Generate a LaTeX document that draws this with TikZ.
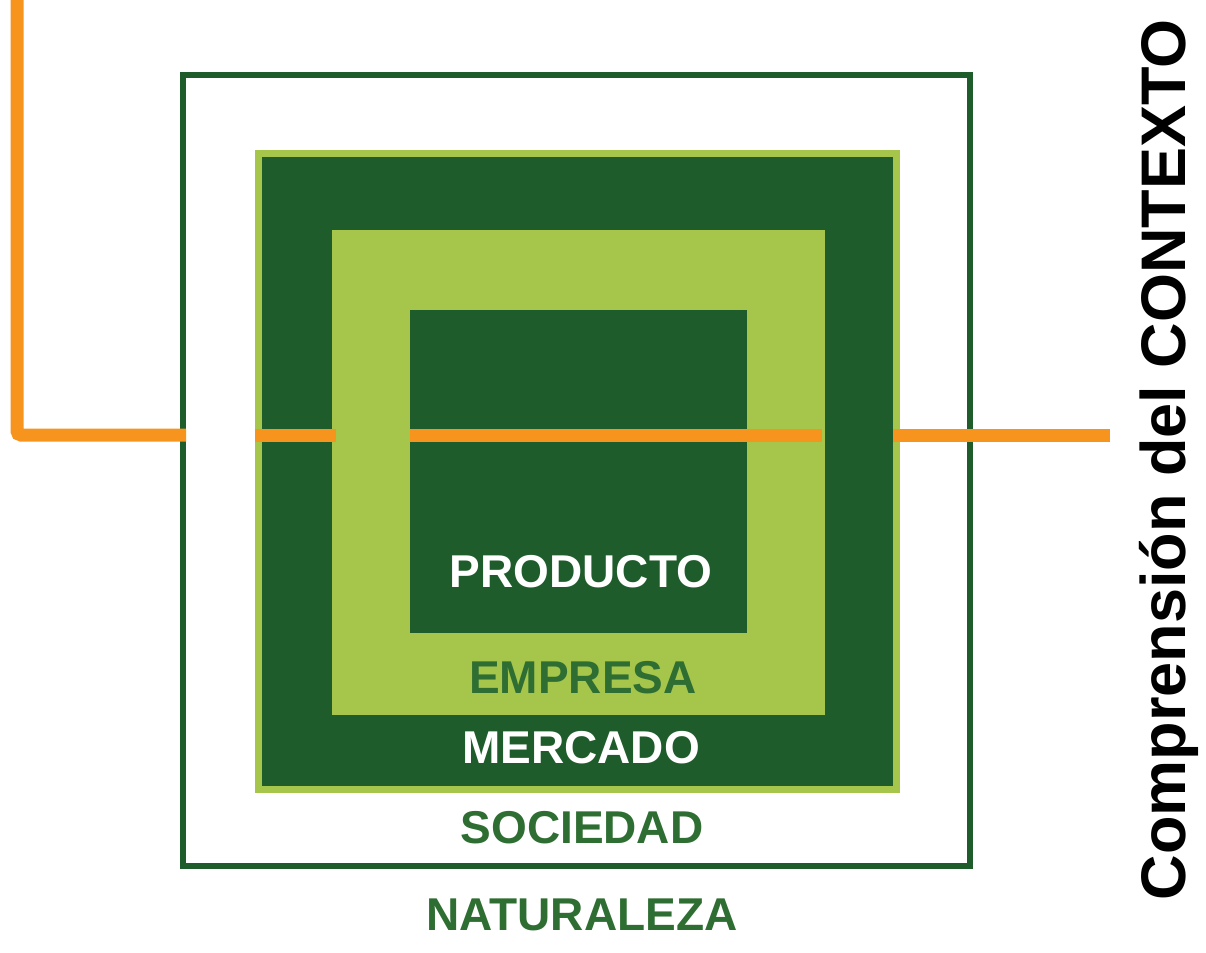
\documentclass[tikz,border=0pt]{standalone}
\usepackage{fontspec}
\setmainfont{Liberation Sans}
\definecolor{dkgreen}{HTML}{1F5C2B}
\definecolor{ltgreen}{HTML}{A5C54B}
\definecolor{txtgreen}{HTML}{2F6E32}
\definecolor{orng}{HTML}{F7941D}
\begin{document}
\begin{tikzpicture}[x=1pt,y=-1pt,
  box/.style={inner sep=0pt,outer sep=0pt,rectangle},
  lbl/.style={font=\fontsize{46}{50}\selectfont\bfseries,inner sep=0pt},
  orangeline/.style={draw=orng,line width=13pt}]
\useasboundingbox (0,0) rectangle (1206,952);
% rectangles
\node[box,draw=dkgreen,line width=6pt,minimum width=787pt,minimum height=791pt] (soc) at (576.5,470.5) {};
\node[box,fill=dkgreen,draw=ltgreen,line width=7pt,minimum width=638pt,minimum height=636pt] (mer) at (577.5,471.5) {};
\node[box,fill=ltgreen,minimum width=493pt,minimum height=485pt] (emp) at (578.5,472.5) {};
\node[box,fill=dkgreen,minimum width=337pt,minimum height=323pt] (pro) at (578.5,471.5) {};
% labels
\node[lbl,white] (tpro) at (581,572) {PRODUCTO};
\node[lbl,txtgreen] (temp) at (583,678) {EMPRESA};
\node[lbl,white] (tmer) at (581,748) {MERCADO};
\node[lbl,txtgreen] (tsoc) at (582,828) {SOCIEDAD};
\node[lbl,txtgreen] (tnat) at (582,915) {NATURALEZA};
\node[font=\fontsize{63}{67}\selectfont\bfseries,rotate=90,inner sep=0pt] (ctx) at (1169,460) {Comprensión del CONTEXTO};
% orange line
\coordinate (a0) at (17,0);
\coordinate (a1) at (17,435);
\coordinate (a2) at (186,435);
\coordinate (b1) at (255,435);
\coordinate (b2) at (336,435);
\coordinate (c1) at (410,435);
\coordinate (c2) at (822,435);
\coordinate (d1) at (893,435);
\coordinate (d2) at (1110,435);
\draw[orangeline,rounded corners=4pt] (a0) -- (a1) -- (a2);
\draw[orangeline] (b1) -- (b2);
\draw[orangeline] (c1) -- (c2);
\draw[orangeline] (d1) -- (d2);
\end{tikzpicture}
\end{document}
